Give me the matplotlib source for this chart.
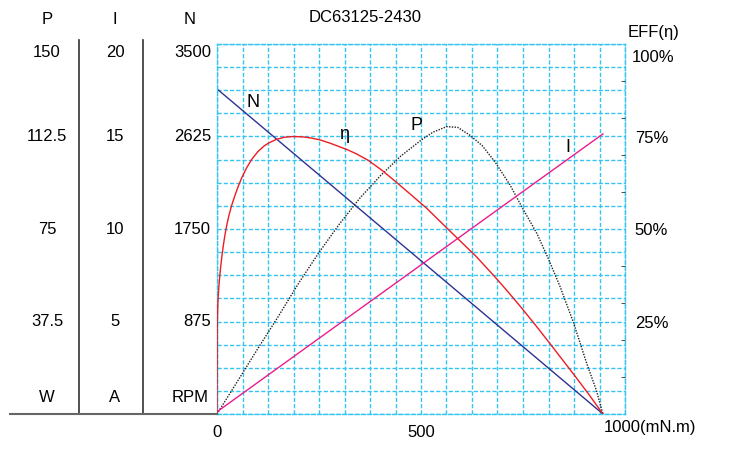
import numpy as np
import matplotlib
matplotlib.use("Agg")
import matplotlib.pyplot as plt
from matplotlib import transforms

plt.rcParams["font.family"] = ["Liberation Sans", "DejaVu Sans"]

# torque axis (mN.m)
speed_torque = [0, 946]
speed_rpm = [3075, 0]

current_torque = [0, 946]
current_a = [0.12, 15.14]

power_torque = [0, 50, 100, 150, 200, 250, 300, 350, 400, 450, 500, 530, 563,
                590, 620, 650, 681, 718, 747, 784, 812, 841, 873, 906, 930, 946]
power_w = [0, 13.2, 26.5, 39.5, 53, 65.5, 77, 87.5, 96.5, 104.5, 111, 114.3,
           116.5, 116.2, 113, 108.8, 102.3, 92.9, 84, 73.2, 63, 51.6, 37.4,
           20.6, 9.5, 0]

eff_torque = [0, 0.8, 2, 3.3, 5, 7.4, 10, 13, 16, 19.6, 25, 30, 36, 45, 52,
              60.5, 72, 85, 100, 115, 126, 145, 165, 187, 210, 230, 252, 277,
              301, 320, 342, 370, 404, 440, 475, 514, 550, 591, 620, 636, 660,
              685, 715, 747, 780, 812, 845, 873, 910, 946]
eff_pct = [0, 25, 29.5, 32.3, 35, 38, 40.8, 43.5, 45.9, 48.5, 51.6, 54,
           56.4, 59.4, 61.5, 63.8, 66.4, 68.8, 70.9, 72.4, 73.2, 74.2, 74.8, 75,
           74.9, 74.6, 74.1, 73.2, 72.2, 71.4, 70.3, 68.6, 65.9, 62.6, 59.3,
           55.6, 51.7, 47.3, 44.2, 42.5, 39.6, 36.6, 32.8, 28.6, 24.1, 19.6,
           14.9, 10.9, 5.5, 0]

p_ticks = [37.5, 75, 112.5, 150]
p_labels = ["37.5", "75", "112.5", "150"]
i_ticks = [5, 10, 15, 20]
i_labels = ["5", "10", "15", "20"]
n_ticks = [875, 1750, 2625, 3500]
n_labels = ["875", "1750", "2625", "3500"]
eff_ticks = [25, 50, 75]
eff_labels = ["25%", "50%", "75%"]

grid_c = "#35c3f0"
fs = 12

fig = plt.figure(figsize=(7.32, 4.69), dpi=100)
ax = fig.add_axes([217 / 732, 55 / 469, 408 / 732, 370 / 469])
ax.set_xlim(0, 1000)
ax.set_ylim(0, 3500)

ax_p = ax.twinx()
ax_p.set_ylim(0, 150)
ax_i = ax.twinx()
ax_i.set_ylim(0, 20)
ax_e = ax.twinx()
ax_e.set_ylim(0, 100)

for a in (ax_p, ax_i):
    a.set_yticks([])
    for s in a.spines.values():
        s.set_visible(False)

# grid
ax.set_xticks(np.arange(0, 1001, 62.5), minor=True)
ax.set_yticks(np.arange(0, 3501, 218.75), minor=True)
ax.set_xticks([0, 500, 1000])
ax.set_xticklabels(["0", "500", ""], fontsize=fs)
ax.set_yticks([])
ax.grid(True, which="both", color=grid_c, lw=1.0, ls=(0, (3, 1.5)))
ax.tick_params(which="both", length=0, pad=8)
for s in ax.spines.values():
    s.set_color(grid_c)
    s.set_linestyle((0, (3, 1.5)))
    s.set_linewidth(1.0)
for s in ax_e.spines.values():
    s.set_visible(False)

# right efficiency axis
ax_e.set_yticks(eff_ticks)
ax_e.set_yticklabels(eff_labels, fontsize=fs)
ax_e.set_yticks(np.arange(10, 100, 10), minor=True)
ax_e.tick_params(axis="y", which="major", length=0, pad=7)
ax_e.tick_params(axis="y", which="minor", length=3, direction="in", color="#333333")

# curves
ax.plot(speed_torque, speed_rpm, color="#2e3192", lw=1.0)
ax_i.plot(current_torque, current_a, color="#ec1c8c", lw=1.0)
ax_p.plot(power_torque, power_w, color="#222222", lw=1.0, ls=(0, (1, 1)))
ax_e.plot(eff_torque, eff_pct, color="#ed1c24", lw=1.0)

# curve names
ax.text(88, 2950, "N", fontsize=13, ha="center", va="center")
ax_e.text(312, 75.5, "η", fontsize=13, ha="center", va="center")
ax_e.text(490, 78, "P", fontsize=13, ha="center", va="center")
ax_e.text(861, 72, "I", fontsize=13, ha="center", va="center")

# left columns
tr_p = transforms.blended_transform_factory(fig.transFigure, ax_p.transData)
tr_i = transforms.blended_transform_factory(fig.transFigure, ax_i.transData)
tr_n = transforms.blended_transform_factory(fig.transFigure, ax.transData)
down = transforms.ScaledTranslation(0, -8 / 100, fig.dpi_scale_trans)
for k, (v, t) in enumerate(zip(p_ticks, p_labels)):
    tr = tr_p + down if k == len(p_ticks) - 1 else tr_p
    fig.text(47 / 732, v, t, transform=tr, ha="center", va="center", fontsize=fs)
for k, (v, t) in enumerate(zip(i_ticks, i_labels)):
    tr = tr_i + down if k == len(i_ticks) - 1 else tr_i
    fig.text(115 / 732, v, t, transform=tr, ha="center", va="center", fontsize=fs)
for k, (v, t) in enumerate(zip(n_ticks, n_labels)):
    tr = tr_n + down if k == len(n_ticks) - 1 else tr_n
    fig.text(211 / 732, v, t, transform=tr, ha="right", va="center", fontsize=fs)

H = 469
fig.text(47 / 732, 1 - 19 / H, "P", ha="center", va="center", fontsize=fs)
fig.text(115 / 732, 1 - 19 / H, "I", ha="center", va="center", fontsize=fs)
fig.text(190 / 732, 1 - 19 / H, "N", ha="center", va="center", fontsize=fs)
fig.text(47 / 732, 1 - 398 / H, "W", ha="center", va="center", fontsize=fs)
fig.text(115 / 732, 1 - 398 / H, "A", ha="center", va="center", fontsize=fs)
fig.text(190 / 732, 1 - 398 / H, "RPM", ha="center", va="center", fontsize=fs)

fig.add_artist(plt.Line2D([79 / 732, 79 / 732], [1 - 40 / H, 1 - 414 / H],
                          color="#333333", lw=1.2))
fig.add_artist(plt.Line2D([143 / 732, 143 / 732], [1 - 40 / H, 1 - 414 / H],
                          color="#333333", lw=1.2))
fig.add_artist(plt.Line2D([10 / 732, 217 / 732], [1 - 414 / H, 1 - 414 / H],
                          color="#666666", lw=1.5))

fig.text(365 / 732, 1 - 17 / H, "DC63125-2430", ha="center", va="center", fontsize=fs)
fig.text(628 / 732, 1 - 33 / H, "EFF(η)", ha="left", va="center", fontsize=fs)
fig.text(632 / 732, 1 - 57 / H, "100%", ha="left", va="center", fontsize=fs)
fig.text(604 / 732, 1 - 427 / H, "1000(mN.m)", ha="left", va="center", fontsize=fs)

fig.savefig("out.png", dpi=100)
